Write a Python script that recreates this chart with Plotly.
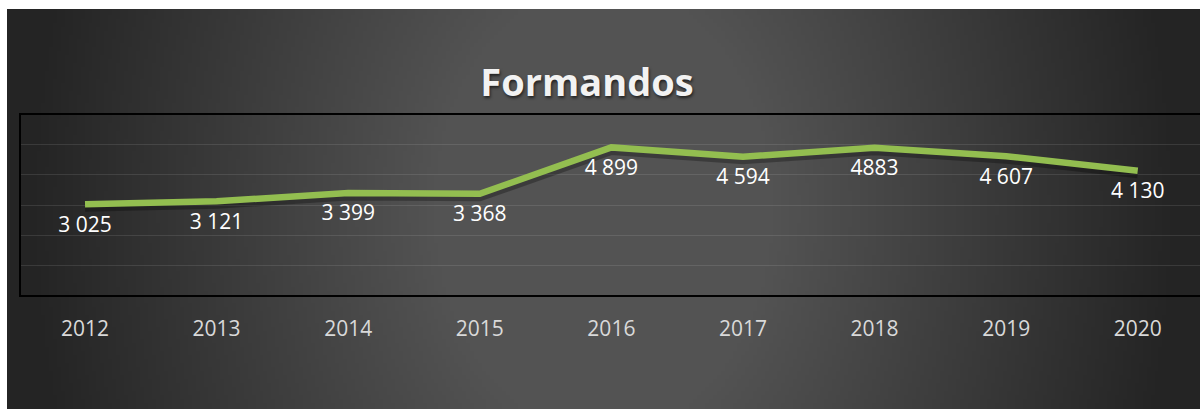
import base64
import struct
import zlib

import numpy as np
import plotly.graph_objects as go

# ---- data ----
years = ["2012", "2013", "2014", "2015", "2016", "2017", "2018", "2019", "2020"]
formandos = [3025, 3121, 3399, 3368, 4899, 4594, 4883, 4607, 4130]
labels = ["3 025", "3 121", "3 399", "3 368", "4 899", "4 594", "4883", "4 607", "4 130"]


# ---- radial gradient background as a PNG (data URI) ----
def gradient_png(w=300, h=100):
    xs = (np.arange(w) + 0.5) / w * 2 - 1
    ys = ((np.arange(h) + 0.5) / h * 2 - 1) * 0.25
    X, Y = np.meshgrid(xs, ys)
    d = np.sqrt(X ** 2 + Y ** 2)
    t = np.clip((d - 0.28) / 0.68, 0, 1)
    v = np.round(83 - 47 * t).astype(np.uint8)
    raw = b"".join(b"\x00" + row.tobytes() for row in v)

    def chunk(tag, data):
        c = struct.pack(">I", len(data)) + tag + data
        return c + struct.pack(">I", zlib.crc32(tag + data) & 0xFFFFFFFF)

    png = b"\x89PNG\r\n\x1a\n"
    png += chunk(b"IHDR", struct.pack(">IIBBBBB", w, h, 8, 0, 0, 0, 0))
    png += chunk(b"IDAT", zlib.compress(raw, 9))
    png += chunk(b"IEND", b"")
    return "data:image/png;base64," + base64.b64encode(png).decode()


W, H = 1200, 409
ML, MR, MT, MB = 20, 0, 114, 113
pw = W - ML - MR
ph = H - MT - MB

shadow_shift = 3 * 6000 / ph  # ~3px drop shadow below the line

fig = go.Figure()
fig.add_trace(go.Scatter(
    x=years, y=[v - shadow_shift for v in formandos], mode="lines",
    line=dict(color="rgba(0,0,0,0.28)", width=9), hoverinfo="skip", showlegend=False,
))
fig.add_trace(go.Scatter(
    x=years, y=formandos, mode="lines+markers+text",
    line=dict(color="#93BE50", width=6.5),
    marker=dict(size=17, color="rgba(0,0,0,0)"),
    text=labels, textposition="bottom center",
    textfont=dict(family="Open Sans", size=21, color="#ffffff"),
    showlegend=False,
))

fig.add_layout_image(dict(
    source=gradient_png(), xref="paper", yref="paper",
    x=(7 - ML) / pw, y=(H - MB - 9) / ph,
    sizex=(W - 7) / pw, sizey=(H - 9) / ph,
    xanchor="left", yanchor="top", sizing="stretch", layer="below",
))

fig.add_shape(type="rect", xref="paper", yref="paper", x0=0, x1=1.02, y0=0, y1=1,
              line=dict(color="#000000", width=2), fillcolor="rgba(0,0,0,0)")

fig.update_layout(
    width=W, height=H,
    margin=dict(l=ML, r=MR, t=MT, b=MB),
    paper_bgcolor="#ffffff", plot_bgcolor="rgba(0,0,0,0)",
    title=dict(
        text="Formandos", xref="container", yref="container",
        x=587 / W, xanchor="center", y=1 - 83 / H, yanchor="middle",
        font=dict(family="Open Sans", size=38, weight="bold", color="#f2f2f2",
                  shadow="1px 2px 3px rgba(0,0,0,0.6)"),
    ),
    xaxis=dict(
        type="category", range=[-0.494, 8.473], showgrid=False, zeroline=False,
        showline=False, ticks="", ticklabelstandoff=18,
        tickfont=dict(family="Open Sans", size=21, color="#d9d9d9"),
    ),
    yaxis=dict(
        range=[0, 6000], dtick=1000, showticklabels=False, zeroline=False,
        showline=False, gridcolor="rgba(255,255,255,0.1)", gridwidth=1,
    ),
)

fig.write_html("out.html")
